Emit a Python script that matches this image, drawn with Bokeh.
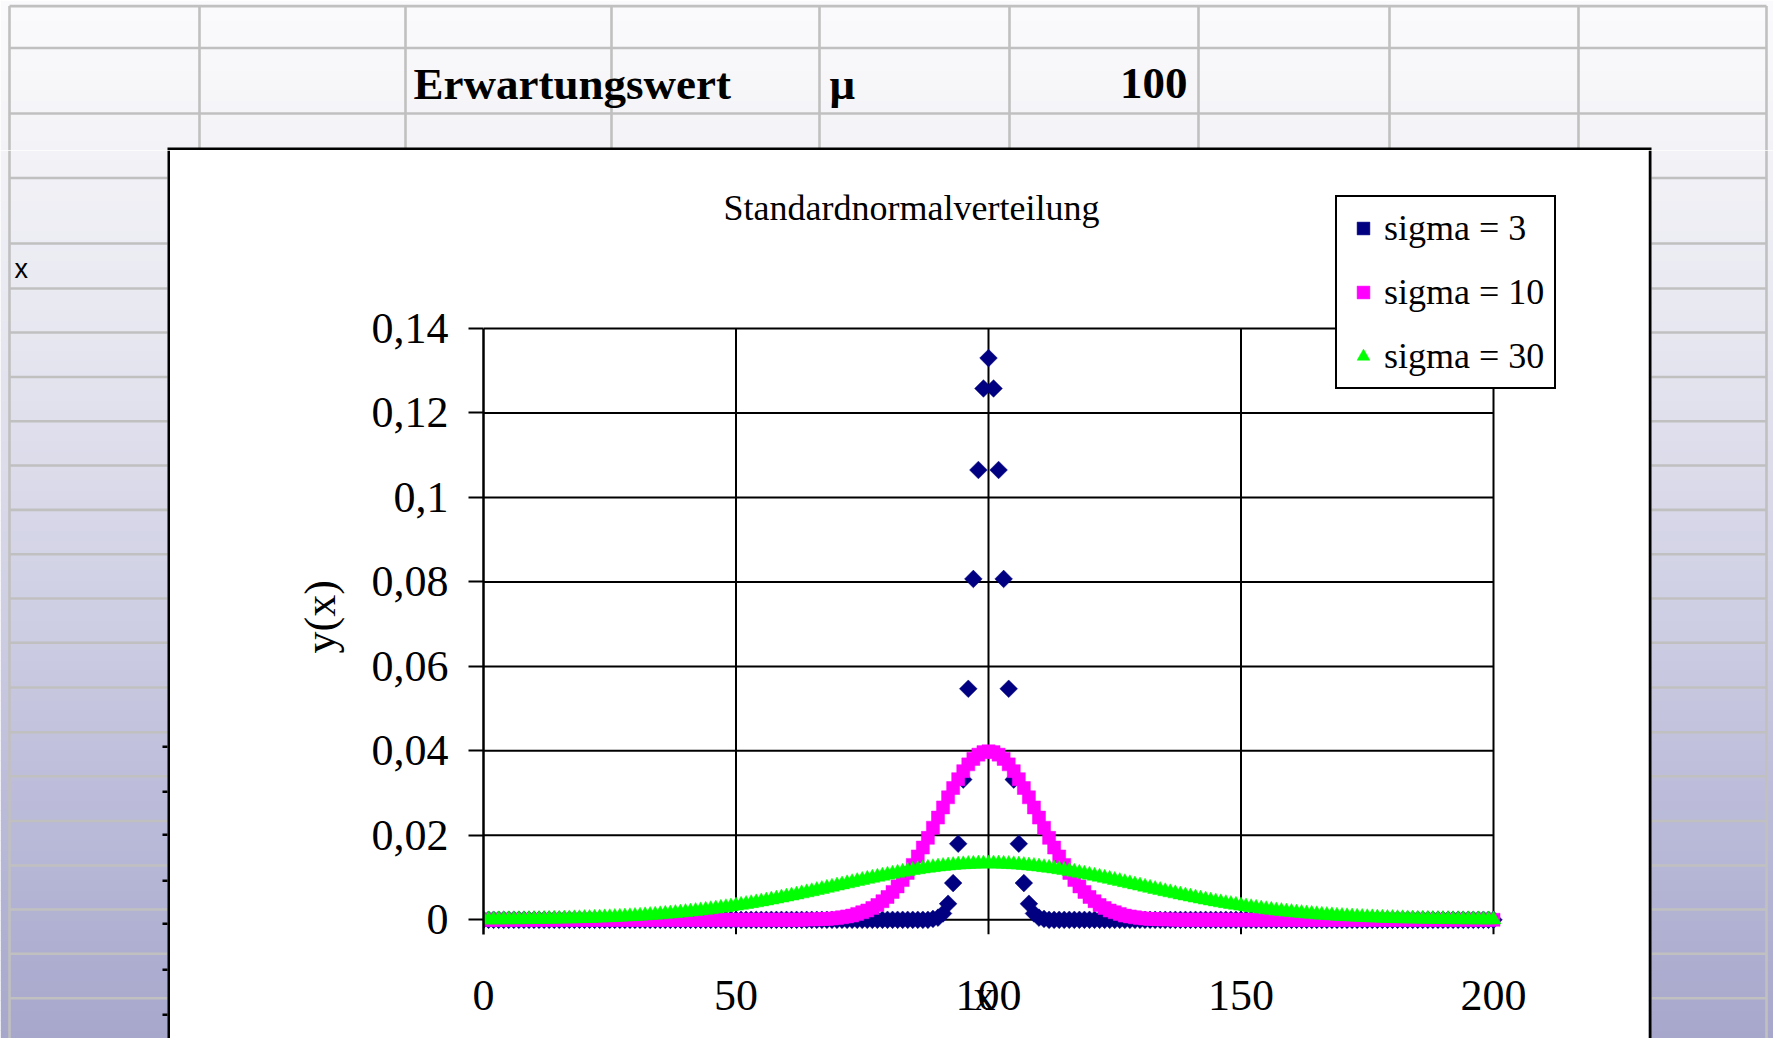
import numpy as np
from bokeh.plotting import figure
from bokeh.layouts import column, row
from bokeh.models import (Range1d, FixedTicker, Label, Legend, LegendItem, Title,
                          ColumnDataSource, CustomJSTickFormatter)
from bokeh.core.properties import value
from bokeh.embed import file_html
from bokeh.resources import INLINE

# ---------------- data ----------------
x_vals = list(range(0, 201))

y_sigma3 = ([0.0] * 89 +
            [0.0002, 0.0005, 0.0015, 0.0038, 0.0087, 0.0180, 0.0332, 0.0547, 0.0807, 0.1065, 0.1258] +
            [0.1330] +
            [0.1258, 0.1065, 0.0807, 0.0547, 0.0332, 0.0180, 0.0087, 0.0038, 0.0015, 0.0005, 0.0002] +
            [0.0] * 89)

y_sigma10 = ([0.0] * 64 +
             [0.0001, 0.0001, 0.0001, 0.0002, 0.0002, 0.0003, 0.0004, 0.0006, 0.0008, 0.0010,
              0.0014, 0.0018, 0.0022, 0.0028, 0.0035, 0.0044, 0.0054, 0.0066, 0.0079, 0.0094,
              0.0111, 0.0130, 0.0150, 0.0171, 0.0194, 0.0218, 0.0242, 0.0266, 0.0290, 0.0312,
              0.0333, 0.0352, 0.0368, 0.0381, 0.0391, 0.0397] +
             [0.0399] +
             [0.0397, 0.0391, 0.0381, 0.0368, 0.0352, 0.0333,
              0.0312, 0.0290, 0.0266, 0.0242, 0.0218, 0.0194, 0.0171, 0.0150, 0.0130, 0.0111,
              0.0094, 0.0079, 0.0066, 0.0054, 0.0044, 0.0035, 0.0028, 0.0022, 0.0018, 0.0014,
              0.0010, 0.0008, 0.0006, 0.0004, 0.0003, 0.0002, 0.0002, 0.0001, 0.0001, 0.0001] +
             [0.0] * 64)

y_sigma30 = [
    0.00005, 0.00006, 0.00006, 0.00007, 0.00008, 0.00009, 0.00010, 0.00011, 0.00012, 0.00013,
    0.00015, 0.00016, 0.00018, 0.00020, 0.00022, 0.00024, 0.00026, 0.00029, 0.00032, 0.00035,
    0.00038, 0.00041, 0.00045, 0.00049, 0.00054, 0.00058, 0.00063, 0.00069, 0.00075, 0.00081,
    0.00087, 0.00094, 0.00102, 0.00110, 0.00118, 0.00127, 0.00137, 0.00147, 0.00157, 0.00168,
    0.00180, 0.00192, 0.00205, 0.00219, 0.00233, 0.00248, 0.00263, 0.00279, 0.00296, 0.00313,
    0.00332, 0.00350, 0.00370, 0.00390, 0.00410, 0.00432, 0.00454, 0.00476, 0.00499, 0.00523,
    0.00547, 0.00571, 0.00596, 0.00622, 0.00647, 0.00673, 0.00700, 0.00726, 0.00753, 0.00780,
    0.00807, 0.00834, 0.00860, 0.00887, 0.00913, 0.00940, 0.00966, 0.00991, 0.01016, 0.01041,
    0.01065, 0.01088, 0.01111, 0.01133, 0.01153, 0.01174, 0.01193, 0.01211, 0.01228, 0.01243,
    0.01258, 0.01271, 0.01283, 0.01294, 0.01303, 0.01311, 0.01318, 0.01323, 0.01327, 0.01329,
    0.01330,
    0.01329, 0.01327, 0.01323, 0.01318, 0.01311, 0.01303, 0.01294, 0.01283, 0.01271, 0.01258,
    0.01243, 0.01228, 0.01211, 0.01193, 0.01174, 0.01153, 0.01133, 0.01111, 0.01088, 0.01065,
    0.01041, 0.01016, 0.00991, 0.00966, 0.00940, 0.00913, 0.00887, 0.00860, 0.00834, 0.00807,
    0.00780, 0.00753, 0.00726, 0.00700, 0.00673, 0.00647, 0.00622, 0.00596, 0.00571, 0.00547,
    0.00523, 0.00499, 0.00476, 0.00454, 0.00432, 0.00410, 0.00390, 0.00370, 0.00350, 0.00332,
    0.00313, 0.00296, 0.00279, 0.00263, 0.00248, 0.00233, 0.00219, 0.00205, 0.00192, 0.00180,
    0.00168, 0.00157, 0.00147, 0.00137, 0.00127, 0.00118, 0.00110, 0.00102, 0.00094, 0.00087,
    0.00081, 0.00075, 0.00069, 0.00063, 0.00058, 0.00054, 0.00049, 0.00045, 0.00041, 0.00038,
    0.00035, 0.00032, 0.00029, 0.00026, 0.00024, 0.00022, 0.00020, 0.00018, 0.00016, 0.00015,
    0.00013, 0.00012, 0.00011, 0.00010, 0.00009, 0.00008, 0.00007, 0.00006, 0.00006, 0.00005,
]

series_labels = ["sigma = 3", "sigma = 10", "sigma = 30"]
x_ticks = [0, 50, 100, 150, 200]
x_grid = [50, 100, 150, 200]
y_ticks = [0, 0.02, 0.04, 0.06, 0.08, 0.1, 0.12, 0.14]

chart_title = "Standardnormalverteilung"
x_title = "x"
x_title_at = 99.2          # Excel draws the axis title over the middle tick label
y_title = "y(x)"
cell_label = "Erwartungswert"
cell_symbol = "\u03bc"
cell_value = "100"
cell_x = "x"

# ---------------- page geometry (pixels) ----------------
W, H = 1773, 1038
TOP_H = 150
LEFT_W = 170
RIGHT_X = 1648
FL, FR, FT, FB = 483, RIGHT_X, TOP_H, 934
X0_PX, X200_PX = 483.0, 1493.0
Y0_PX, Y14_PX = 919.3, 328.0
ppx = (X200_PX - X0_PX) / 200.0
ppu = (Y0_PX - Y14_PX) / 0.14
Y_START = -(FB - Y0_PX) / ppu

anchors = [(0, (250, 250, 252)), (65, (248, 248, 250)), (345, (230, 230, 240)),
           (575, (210, 210, 230)), (795, (188, 188, 218)), (1038, (167, 167, 204))]


def grad(y):
    for (y0, c0), (y1, c1) in zip(anchors[:-1], anchors[1:]):
        if y <= y1:
            t = (y - y0) / (y1 - y0)
            c = [round(a + (b - a) * t) for a, b in zip(c0, c1)]
            return "#%02x%02x%02x" % tuple(c)
    return "#%02x%02x%02x" % anchors[-1][1]


def strip(x0, x1, y0, y1):
    f = figure(width=x1 - x0, height=y1 - y0,
               x_range=Range1d(x0, x1), y_range=Range1d(y1, y0),
               min_border=0, x_axis_location=None, y_axis_location=None,
               toolbar_location=None, title=None, output_backend="svg",
               outline_line_color=None, background_fill_color="#ffffff",
               border_fill_color=grad((y0 + y1) / 2), frame_align=False)
    f.grid.visible = False
    step = 10
    tops, bots, cols = [], [], []
    for yy in range(y0, y1, step):
        tops.append(yy)
        bots.append(min(yy + step + 0.6, y1))
        cols.append(grad(yy + step / 2))
    f.quad(left=x0, right=x1, top=tops, bottom=bots, fill_color=cols, line_color=None)
    return f


def rect(f, l, r, t, b, color):
    f.quad(left=[l], right=[r], top=[t], bottom=[b], fill_color=color, line_color=None)


GRID = "#c0c0c0"
LW = 2.6
col_x = [9, 199, 405, 611, 819, 1009, 1198, 1389, 1578, 1766]
top_rows = [5.6, 47.5, 113]
low_rows = [177.5, 243, 288, 332, 376.5, 420.8, 465, 509.4, 553.7, 598, 642.3, 687,
            731.7, 775.7, 820.5, 865, 909, 953.3, 997.7]
BW = 3

# ---- top strip ----
top = strip(0, W, 0, TOP_H)
for y in top_rows:
    rect(top, 9, 1766, y - LW / 2, y + LW / 2, GRID)
for x in col_x:
    rect(top, x - LW / 2, x + LW / 2, 5.6, TOP_H, GRID)
rect(top, LEFT_W - BW, RIGHT_X + BW, TOP_H - BW, TOP_H, "#000000")
for tx, txt, al in [(413, cell_label, "left"), (829, cell_symbol, "left"), (1187, cell_value, "right")]:
    top.text(x=[tx], y=[83], text=[txt], text_font=value("Liberation Serif"),
             text_font_style="bold", text_font_size="45px", text_baseline="middle",
             text_align=al, text_color="black")

# ---- left strip ----
left = strip(0, LEFT_W, TOP_H, H)
for y in low_rows:
    rect(left, 9, LEFT_W - BW, y - LW / 2, y + LW / 2, GRID)
rect(left, 9 - LW / 2, 9 + LW / 2, TOP_H, H, GRID)
for y in [746, 791, 834, 880, 923, 969, 1014]:
    rect(left, 162, LEFT_W - BW, y - 1, y + 1.5, "#000000")
rect(left, LEFT_W - BW, LEFT_W, TOP_H, H, "#000000")
left.text(x=[14], y=[268], text=[cell_x], text_font=value("Liberation Sans"),
          text_font_size="27px", text_baseline="middle", text_align="left", text_color="black")

# ---- right strip ----
right = strip(RIGHT_X, W, TOP_H, H)
for y in low_rows:
    rect(right, RIGHT_X + BW, 1766, y - LW / 2, y + LW / 2, GRID)
rect(right, 1766 - LW / 2, 1766 + LW / 2, TOP_H, H, GRID)
rect(right, RIGHT_X, RIGHT_X + BW, TOP_H, H, "#000000")

# ---------------- chart ----------------
x_range = Range1d(0, 200 + (FR - X200_PX) / ppx)
y_range = Range1d(Y_START, 0.14 + (Y14_PX - FT) / ppu)

p = figure(width=RIGHT_X - LEFT_W, height=H - TOP_H, x_range=x_range, y_range=y_range,
           min_border_left=FL - LEFT_W, min_border_right=0,
           min_border_top=0, min_border_bottom=H - FB,
           output_backend="svg", toolbar_location=None, title=None,
           background_fill_color="white", border_fill_color="white",
           outline_line_color=None, frame_align=False)
p.extra_x_ranges = {"px": Range1d(FL, FR)}
p.extra_y_ranges = {"py": Range1d(FB, FT)}
p.grid.visible = False

p.segment(x0=[0] * len(y_ticks), x1=[200] * len(y_ticks), y0=y_ticks, y1=y_ticks,
          line_color="black", line_width=2)
p.segment(x0=x_grid, x1=x_grid, y0=[Y_START] * len(x_grid), y1=[0.14] * len(x_grid),
          line_color="black", line_width=2)

src = ColumnDataSource(dict(x=x_vals, s3=y_sigma3, s10=y_sigma10, s30=y_sigma30))
r3 = p.scatter("x", "s3", source=src, marker="square", angle=np.pi / 4, size=12.5,
               fill_color="#000080", line_color="#000080", line_width=0.5)
r10 = p.scatter("x", "s10", source=src, marker="square", size=13,
                fill_color="#ff00ff", line_color="#ff00ff", line_width=0.5)
r30 = p.scatter("x", "s30", source=src, marker="triangle", size=15,
                fill_color="#00ff00", line_color="#00ff00", line_width=0.5)

ax = p.yaxis[0]
ax.bounds = (Y_START, 0.14)
ax.ticker = FixedTicker(ticks=y_ticks)
ax.formatter = CustomJSTickFormatter(code="return tick.toString().replace('.', ',');")
ax.axis_line_color = "black"
ax.axis_line_width = 2.5
ax.major_tick_line_color = "black"
ax.major_tick_line_width = 2
ax.major_tick_out = 15
ax.major_tick_in = 0
ax.minor_tick_line_color = None
ax.major_label_standoff = 20
ax.major_label_text_font = "Liberation Serif"
ax.major_label_text_font_size = "44px"
ax.major_label_text_color = "black"

# y axis title, placed in the left panel at the Excel position
p.add_layout(Title(text=y_title, align="left", offset=281, standoff=48,
                   text_font="Liberation Serif", text_font_size="44px",
                   text_font_style="normal", text_color="black"), "left")

bx = p.xaxis[0]
bx.bounds = (0, 200)
bx.ticker = FixedTicker(ticks=x_ticks + [x_title_at])
bx.formatter = CustomJSTickFormatter(
    args=dict(at=x_title_at, title=x_title),
    code="return Math.abs(tick - at) < 1e-6 ? title : tick.toString();")
bx.axis_line_color = None
bx.major_tick_line_color = None
bx.major_tick_out = 0
bx.major_tick_in = 0
bx.minor_tick_line_color = None
bx.major_label_standoff = 36
bx.major_label_text_font = "Liberation Serif"
bx.major_label_text_font_size = "44px"
bx.major_label_text_color = "black"

p.add_layout(Label(x=911, y=207, x_range_name="px", y_range_name="py", text=chart_title,
                   text_font="Liberation Serif", text_font_size="36px",
                   text_baseline="middle", text_align="center", text_color="black"))

legend = Legend(items=[LegendItem(label=series_labels[0], renderers=[r3]),
                       LegendItem(label=series_labels[1], renderers=[r10]),
                       LegendItem(label=series_labels[2], renderers=[r30])],
                location=(1335 - FL, FB - 389))
legend.label_text_font = "Liberation Serif"
legend.label_text_font_size = "36px"
legend.label_text_color = "black"
legend.border_line_color = "black"
legend.border_line_alpha = 1.0
legend.border_line_width = 2
legend.background_fill_color = "white"
legend.background_fill_alpha = 1.0
legend.padding = 10
legend.spacing = 22
legend.margin = 0
legend.glyph_width = 32
legend.glyph_height = 40
legend.label_height = 40
legend.label_standoff = 5
p.add_layout(legend)

page = column(top, row(left, p, right, spacing=0), spacing=0)
open("out.html", "w").write(file_html(page, INLINE))
